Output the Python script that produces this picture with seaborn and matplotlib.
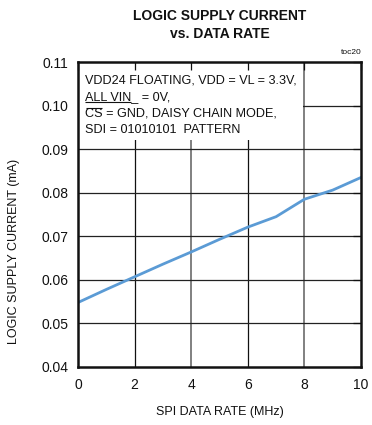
import matplotlib
matplotlib.use("Agg")
import matplotlib.pyplot as plt
import seaborn as sns
import pandas as pd
from matplotlib.patches import Rectangle

# ---- data ----
data_rate_mhz = [0, 1, 2, 3, 4, 5, 6, 7, 8, 9, 10]
supply_current_ma = [0.0548, 0.0578, 0.0607, 0.0636, 0.0664, 0.0693,
                     0.0721, 0.0745, 0.0785, 0.0806, 0.0835]
x_ticks = [0, 2, 4, 6, 8, 10]
y_ticks = [0.04, 0.05, 0.06, 0.07, 0.08, 0.09, 0.10, 0.11]
y_tick_labels = ["0.04", "0.05", "0.06", "0.07", "0.08", "0.09", "0.10", "0.11"]
title_text = "LOGIC SUPPLY CURRENT\nvs. DATA RATE"
x_label = "SPI DATA RATE (MHz)"
y_label = "LOGIC SUPPLY CURRENT (mA)"
note_lines = ["VDD24 FLOATING, VDD = VL = 3.3V,",
              "ALL VIN_ = 0V,",
              "CS = GND, DAISY CHAIN MODE,",
              "SDI = 01010101  PATTERN"]
tag_text = "toc20"

sns.set_theme(style="white")
fam = ["Liberation Sans Narrow", "Liberation Sans", "DejaVu Sans"]
plt.rcParams["font.family"] = fam

df = pd.DataFrame({"rate": data_rate_mhz, "current": supply_current_ma})

fig = plt.figure(figsize=(3.72, 4.25), dpi=100)
ax = fig.add_axes([78 / 372, 1 - 367 / 425, (361 - 78) / 372, (367 - 62) / 425])

# grid (drawn manually so the note box can cover it)
grid_gray_x = {4, 8}
for xv in x_ticks[1:-1]:
    if xv in grid_gray_x:
        ax.axvline(xv, color="#808080", lw=1.4, zorder=1)
    else:
        ax.axvline(xv, color="#111111", lw=0.9, zorder=1)
for yv in y_ticks[1:-1]:
    ax.axhline(yv, color="#222222", lw=0.9, zorder=1)

sns.lineplot(data=df, x="rate", y="current", ax=ax, color="#5b9bd5",
             lw=2.0, zorder=3)

ax.set_xlim(0, 10)
ax.set_ylim(0.04, 0.11)
ax.set_xticks(x_ticks)
ax.set_xticklabels([str(v) for v in x_ticks])
ax.set_yticks(y_ticks)
ax.set_yticklabels(y_tick_labels)
ax.set_axisbelow(False)
ax.tick_params(axis="both", direction="in", length=6, width=0.9, color="#111111",
               top=True, right=True, labelsize=10, colors="#111111")
ax.tick_params(axis="x", pad=8)
ax.tick_params(axis="y", pad=7)
for sp in ax.spines.values():
    sp.set_linewidth(1.8)
    sp.set_color("#111111")
    sp.set_zorder(4)

ax.set_xlabel(x_label, fontsize=9, labelpad=10, color="#111111")
ax.set_ylabel(y_label, fontsize=9, color="#111111")
ax.yaxis.set_label_coords(-0.205, 0.38)

# note box (white background hiding grid)
ax.add_patch(Rectangle((0, 0.0921), 7.96, 0.11 - 0.0921, facecolor="white",
                       edgecolor="none", zorder=2))
y0 = 0.1057
dy = 0.0038
fs = 9.1
for i, line in enumerate(note_lines):
    ax.text(0.25, y0 - i * dy, line, fontsize=fs, va="center", ha="left",
            color="#111111", zorder=5)

# underline under "ALL VIN" and overline above "CS"
t_all = ax.text(0.25, y0 - dy, "ALL VIN", fontsize=fs, va="center", ha="left", alpha=0)
t_all_full = ax.text(0.25, y0 - dy, "ALL VIN_ = 0V,", fontsize=fs, va="center",
                     ha="left", alpha=0)
t_cs = ax.text(0.25, y0 - 2 * dy, "CS", fontsize=fs, va="center", ha="left", alpha=0)
t_cs_full = ax.text(0.25, y0 - 2 * dy, "CS = GND, DAISY CHAIN MODE,", fontsize=fs,
                    va="center", ha="left", alpha=0)
fig.canvas.draw()
inv = ax.transData.inverted()
b_all = t_all.get_window_extent().transformed(inv)
b_full = t_all_full.get_window_extent().transformed(inv)
uy = b_full.y0 + 0.0004
ax.plot([b_all.x0, b_all.x1], [uy, uy], color="#111111", lw=0.8, zorder=5,
        solid_capstyle="butt")
b_cs = t_cs.get_window_extent().transformed(inv)
b_csf = t_cs_full.get_window_extent().transformed(inv)
oy = b_csf.y1 - 0.0001
ax.plot([b_cs.x0 + 0.03, b_cs.x1 - 0.03], [oy, oy], color="#111111", lw=0.8,
        zorder=5, solid_capstyle="butt")

fig.text(219.5 / 372, 1 - 25 / 425, title_text, ha="center", va="center",
         fontsize=10, fontweight="bold", linespacing=1.45, color="#111111")
fig.text(362 / 372, 1 - 53 / 425, tag_text, ha="right", va="center",
         fontsize=6, color="#111111")

fig.savefig("out.png", dpi=100)
